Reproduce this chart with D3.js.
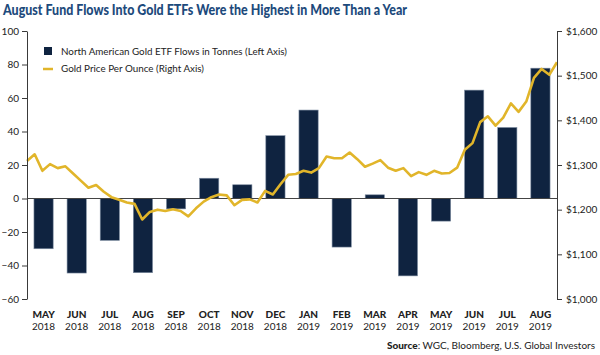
<!DOCTYPE html>
<html>
<head>
<meta charset="utf-8">
<script src="https://cdn.jsdelivr.net/npm/d3@7"></script>
<style>
  html, body { margin: 0; padding: 0; background: #fff; }
  svg { display: block; font-family: Lato, "Open Sans", sans-serif; }
</style>
</head>
<body>
<svg id="chart" width="600" height="355"></svg>
<script>
// ---- Data ----
const months = ["MAY","JUN","JUL","AUG","SEP","OCT","NOV","DEC","JAN","FEB","MAR","APR","MAY","JUN","JUL","AUG"];
const years  = ["2018","2018","2018","2018","2018","2018","2018","2018","2019","2019","2019","2019","2019","2019","2019","2019"];
const flows  = [-30, -44.5, -25, -44.3, -6.2, 12.1, 8.2, 37.5, 52.8, -29, 2.2, -46.2, -13.5, 64.7, 42.4, 77.8];
const goldPrice = [1309,1324,1287,1302,1293,1297,1281,1265,1249,1255,1240,1228,1222,1216,1213,1178,
  1195,1200,1197,1201,1197,1185,1203,1218,1228,1234,1232,1210,1222,1223,1216,1242,1234,1257,1278,1280,
  1287,1283,1293,1319,1315,1315,1328,1313,1296,1303,1311,1294,1287,1293,1275,1284,1278,1287,1281,1282,
  1294,1334,1349,1396,1409,1388,1406,1438,1419,1442,1495,1515,1502,1530];
const leftTicks  = [100, 80, 60, 40, 20, 0, -20, -40, -60];
const rightTicks = [1600, 1500, 1400, 1300, 1200, 1100, 1000];
const title = "August Fund Flows Into Gold ETFs Were the Highest in More Than a Year";
const legendLabels = ["North American Gold ETF Flows in Tonnes (Left Axis)", "Gold Price Per Ounce (Right Axis)"];

// ---- Layout ----
const svg = d3.select("#chart");
const L = 27, R = 557, T = 31, B = 299;
const navy = "#0f2340", gold = "#e1b52a", axisCol = "#3a3a3a", textCol = "#222";

const x = d3.scaleBand().domain(d3.range(months.length)).range([L, R]).paddingInner(0.42).paddingOuter(0.21);
const yL = d3.scaleLinear().domain([-60, 100]).range([B, T]);
const yR = d3.scaleLinear().domain([1000, 1600]).range([B, T]);
const xLine = d3.scaleLinear().domain([0, goldPrice.length - 1]).range([L, R]);

// Title
svg.append("text").attr("x", 3).attr("y", 15)
  .attr("font-size", 15).attr("font-weight", 900).attr("fill", "#1d4a7c")
  .attr("textLength", 404).attr("lengthAdjust", "spacingAndGlyphs")
  .text(title);

// Bars
svg.append("g").selectAll("rect").data(flows).join("rect")
  .attr("x", (d, i) => x(i))
  .attr("width", x.bandwidth())
  .attr("y", d => yL(Math.max(0, d)))
  .attr("height", d => Math.abs(yL(d) - yL(0)))
  .attr("fill", navy)
  .attr("stroke", "#7d8ca0").attr("stroke-width", 0.6);

// Zero line
svg.append("line").attr("x1", L).attr("x2", R).attr("y1", yL(0)).attr("y2", yL(0))
  .attr("stroke", "#444").attr("stroke-width", 1);

// Gold line
svg.append("path").datum(goldPrice)
  .attr("fill", "none").attr("stroke", gold).attr("stroke-width", 2.6)
  .attr("stroke-linejoin", "round")
  .attr("d", d3.line().x((d, i) => xLine(i)).y(d => yR(d)));

// Left axis
const gL = svg.append("g").attr("transform", `translate(${L},0)`)
  .call(d3.axisLeft(yL).tickValues(leftTicks).tickSize(5).tickPadding(3).tickSizeOuter(0));
gL.select(".domain").attr("stroke", axisCol);
gL.selectAll(".tick line").attr("stroke", axisCol);
gL.selectAll(".tick text").attr("fill", textCol).attr("font-size", 10).attr("font-family", "Lato, sans-serif");

// Right axis
const gR = svg.append("g").attr("transform", `translate(${R},0)`)
  .call(d3.axisRight(yR).tickValues(rightTicks).tickSize(5).tickPadding(4).tickSizeOuter(0)
    .tickFormat(d => "$" + d3.format(",")(d)));
gR.select(".domain").attr("stroke", axisCol);
gR.selectAll(".tick line").attr("stroke", axisCol);
gR.selectAll(".tick text").attr("fill", textCol).attr("font-size", 10).attr("font-family", "Lato, sans-serif");

// X labels
const xl = svg.append("g");
xl.selectAll("text.m").data(months).join("text").attr("class", "m")
  .attr("x", (d, i) => x(i) + x.bandwidth() / 2).attr("y", 317.5)
  .attr("text-anchor", "middle").attr("font-size", 10).attr("font-weight", 900).attr("fill", textCol)
  .text(d => d);
xl.selectAll("text.y").data(years).join("text").attr("class", "y")
  .attr("x", (d, i) => x(i) + x.bandwidth() / 2).attr("y", 330)
  .attr("text-anchor", "middle").attr("font-size", 10).attr("fill", textCol)
  .text(d => d);

// Legend
svg.append("rect").attr("x", 44).attr("y", 47).attr("width", 8).attr("height", 8).attr("fill", navy);
svg.append("text").attr("x", 61).attr("y", 54.5).attr("font-size", 10).attr("fill", textCol)
  .attr("textLength", 226).attr("lengthAdjust", "spacingAndGlyphs").text(legendLabels[0]);
svg.append("line").attr("x1", 43).attr("x2", 53).attr("y1", 69).attr("y2", 69)
  .attr("stroke", gold).attr("stroke-width", 2.5);
svg.append("text").attr("x", 61).attr("y", 72).attr("font-size", 10).attr("fill", textCol)
  .attr("textLength", 143).attr("lengthAdjust", "spacingAndGlyphs").text(legendLabels[1]);

// Source
const src = svg.append("text").attr("x", 595).attr("y", 348.5).attr("text-anchor", "end")
  .attr("font-size", 10).attr("fill", textCol);
src.append("tspan").attr("font-weight", 900).text("Source");
src.append("tspan").text(": WGC, Bloomberg, U.S. Global Investors");
</script>
</body>
</html>
